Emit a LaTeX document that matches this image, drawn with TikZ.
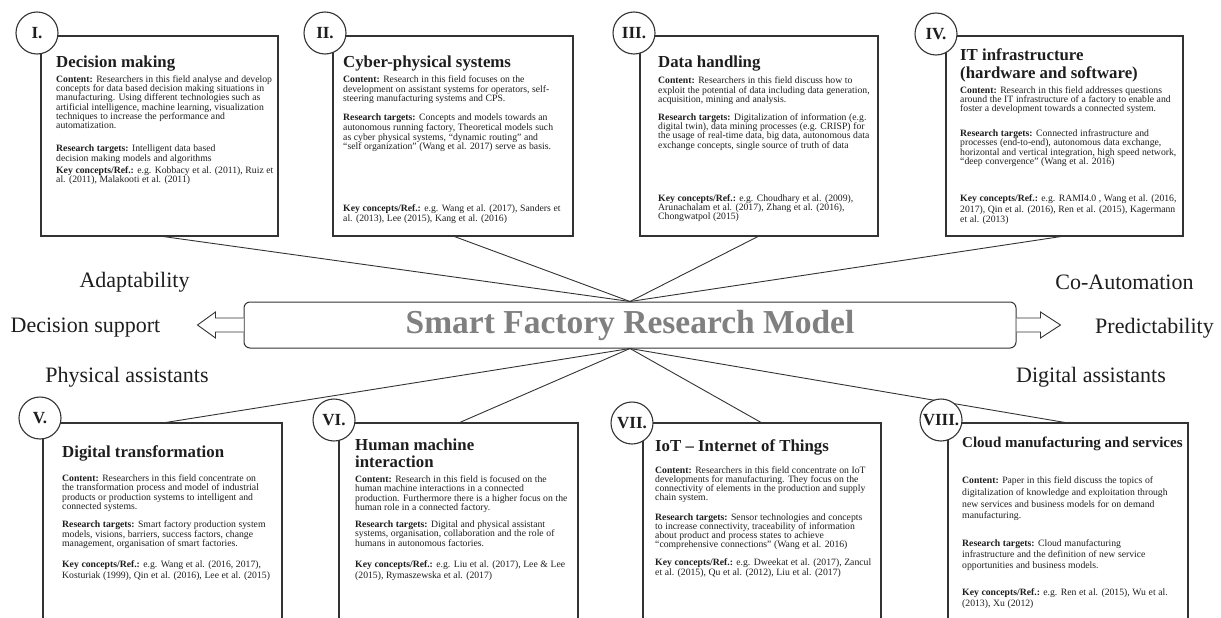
\documentclass[tikz,border=0pt]{standalone}
\usepackage{fontspec}
\setmainfont{Liberation Serif}
\definecolor{ink}{HTML}{1E1E1E}
\definecolor{frame}{HTML}{333333}
\definecolor{titlegray}{HTML}{808080}
\newcommand{\bodyfont}[1]{\fontsize{9.7}{#1}\selectfont\spaceskip=0.27em plus 0.05em\relax}
\tikzset{
 box/.style={draw=frame, line width=1.1pt, rectangle, inner sep=0pt, outer sep=0pt, anchor=north west},
 num/.style={circle, draw=frame, line width=1.1pt, fill=white, minimum size=42pt, inner sep=0pt, font=\fontsize{17}{17}\selectfont\bfseries, text=ink},
 ttl/.style={anchor=base west, inner sep=0pt, font=\fontsize{16.8}{18}\selectfont\bfseries, text=ink},
 body/.style={anchor=north west, inner sep=0pt, align=left, text=ink, font=\bodyfont{#1}},
 body/.default=9.4,
 conn/.style={draw=frame, line width=0.9pt},
 side/.style={font=\fontsize{22}{22}\selectfont, text=ink, inner sep=0pt},
 fatarrow/.style={draw=frame, line width=0.9pt, fill=white, line join=miter},
 centerbox/.style={draw=frame, line width=1pt, rounded corners=6pt, minimum width=772pt, minimum height=46pt, inner sep=0pt, font=\fontsize{33.5}{34}\selectfont\bfseries, text=titlegray}
}
\begin{document}
\begin{tikzpicture}[x=1pt,y=-1pt]
\useasboundingbox (0,0) rectangle (1221,618);
\fill[white] (0,0) rectangle (1221,618);
\clip (0,0) rectangle (1221,618);

% boxes
\node[box, minimum width=237pt, minimum height=200pt] (b1) at (41,36) {};
\node[box, minimum width=240pt, minimum height=200pt] (b2) at (333,36) {};
\node[box, minimum width=238pt, minimum height=200pt] (b3) at (640,36) {};
\node[box, minimum width=237pt, minimum height=200pt] (b4) at (946,36) {};
\node[box, minimum width=239pt, minimum height=220pt] (b5) at (43,423) {};
\node[box, minimum width=239pt, minimum height=220pt] (b6) at (339,423) {};
\node[box, minimum width=238pt, minimum height=220pt] (b7) at (643,423) {};
\node[box, minimum width=240pt, minimum height=220pt] (b8) at (948,423) {};

% center
\node[centerbox] (sf) at (630,325) {Smart Factory Research Model};

% connectors
\draw[conn] (b1.south) -- (sf.north);
\draw[conn] (b2.south) -- (sf.north);
\draw[conn] (b3.south) -- (sf.north);
\draw[conn] (b4.south) -- (sf.north);
\draw[conn] (sf.south) -- (b5.north);
\draw[conn] (sf.south) -- (b6.north);
\draw[conn] (sf.south) -- (b7.north);
\draw[conn] (sf.south) -- (b8.north);

% fat arrows
\draw[fatarrow] ([yshift=7pt]sf.west) -- ++(-28,0) -- ++(0,-6) -- ++(-18,13) -- ++(18,13) -- ++(0,-6) -- ++(28,0);
\draw[fatarrow] ([yshift=7pt]sf.east) -- ++(24,0) -- ++(0,-6) -- ++(20,13) -- ++(-20,13) -- ++(0,-6) -- ++(-24,0);

% side labels
\node[side] (adapt) at (134.5,282) {Adaptability};
\node[side] (decs) at (85.5,328) {Decision support};
\node[side] (phys) at (127,377) {Physical assistants};
\node[side] (coaut) at (1124.5,282) {Co-Automation};
\node[side] (pred) at (1154.5,328) {Predictability};
\node[side] (digi) at (1091,377) {Digital assistants};

% Box I
\node[ttl] (t1) at (56,67) {Decision making};
\node[body=9.2] (c1) at (56,75.5) {\textbf{Content:} Researchers in this field analyse and develop\\concepts for data based decision making situations in\\manufacturing. Using different technologies such as\\artificial intelligence, machine learning, visualization\\techniques to increase the performance and\\automatization.};
\node[body=9.6] (r1) at (56,144.5) {\textbf{Research targets:} Intelligent data based\\decision making models and algorithms};
\node[body=9.2] (k1) at (56,166.5) {\textbf{Key concepts/Ref.:} e.g. Kobbacy et al. (2011), Ruiz et\\al. (2011), Malakooti et al. (2011)};

% Box II
\node[ttl] (t2) at (343,67) {Cyber-physical systems};
\node[body=9.6] (c2) at (343,75.5) {\textbf{Content:} Research in this field focuses on the\\development on assistant systems for operators, self-\\steering manufacturing systems and CPS.};
\node[body=9.8] (r2) at (343,113.5) {\textbf{Research targets:} Concepts and models towards an\\autonomous running factory, Theoretical models such\\as cyber physical systems, ``dynamic routing'' and\\``self organization'' (Wang et al. 2017) serve as basis.};
\node[body=9.8] (k2) at (343,204.5) {\textbf{Key concepts/Ref.:} e.g. Wang et al. (2017), Sanders et\\al. (2013), Lee (2015), Kang et al. (2016)};

% Box III
\node[ttl] (t3) at (658,67) {Data handling};
\node[body=9.5] (c3) at (658,76.5) {\textbf{Content:} Researchers in this field discuss how to\\exploit the potential of data including data generation,\\acquisition, mining and analysis.};
\node[body=9.2] (r3) at (658,113.5) {\textbf{Research targets:} Digitalization of information (e.g.\\digital twin), data mining processes (e.g. CRISP) for\\the usage of real-time data, big data, autonomous data\\exchange concepts, single source of truth of data};
\node[body=9.2] (k3) at (658,194.5) {\textbf{Key concepts/Ref.:} e.g. Choudhary et al. (2009),\\Arunachalam et al. (2017), Zhang et al. (2016),\\Chongwatpol (2015)};

% Box IV
\node[ttl] (t4a) at (960,60) {IT infrastructure};
\node[ttl] (t4b) at (960,78) {(hardware and software)};
\node[body=9.2] (c4) at (960,86.5) {\textbf{Content:} Research in this field addresses questions\\around the IT infrastructure of a factory to enable and\\foster a development towards a connected system.};
\node[body=9.4] (r4) at (960,129.5) {\textbf{Research targets:} Connected infrastructure and\\processes (end-to-end), autonomous data exchange,\\horizontal and vertical integration, high speed network,\\``deep convergence'' (Wang et al. 2016)};
\node[body=10.5] (k4) at (960,194.5) {\textbf{Key concepts/Ref.:} e.g. RAMI4.0 , Wang et al. (2016,\\2017), Qin et al. (2016), Ren et al. (2015), Kagermann\\et al. (2013)};

% Box V
\node[ttl] (t5) at (62,457) {Digital transformation};
\node[body=9.3] (c5) at (62,474.5) {\textbf{Content:} Researchers in this field concentrate on\\the transformation process and model of industrial\\products or production systems to intelligent and\\connected systems.};
\node[body=9.5] (r5) at (62,520.5) {\textbf{Research targets:} Smart factory production system\\models, visions, barriers, success factors, change\\management, organisation of smart factories.};
\node[body=10.5] (k5) at (62,560.5) {\textbf{Key concepts/Ref.:} e.g. Wang et al. (2016, 2017),\\Kosturiak (1999), Qin et al. (2016), Lee et al. (2015)};

% Box VI
\node[ttl] (t6a) at (355,450) {Human machine};
\node[ttl] (t6b) at (355,467) {interaction};
\node[body=9.3] (c6) at (355,475.5) {\textbf{Content:} Research in this field is focused on the\\human machine interactions in a connected\\production. Furthermore there is a higher focus on the\\human role in a connected factory.};
\node[body=9.5] (r6) at (355,520.5) {\textbf{Research targets:} Digital and physical assistant\\systems, organisation, collaboration and the role of\\humans in autonomous factories.};
\node[body=10.5] (k6) at (355,560.5) {\textbf{Key concepts/Ref.:} e.g. Liu et al. (2017), Lee \& Lee\\(2015), Rymaszewska et al. (2017)};

% Box VII
\node[ttl] (t7) at (655,451) {IoT – Internet of Things};
\node[body=9.0] (c7) at (655,466.5) {\textbf{Content:} Researchers in this field concentrate on IoT\\developments for manufacturing. They focus on the\\connectivity of elements in the production and supply\\chain system.};
\node[body=9.0] (r7) at (655,513.5) {\textbf{Research targets:} Sensor technologies and concepts\\to increase connectivity, traceability of information\\about product and process states to achieve\\``comprehensive connections'' (Wang et al. 2016)};
\node[body=10] (k7) at (655,558.5) {\textbf{Key concepts/Ref.:} e.g. Dweekat et al. (2017), Zancul\\et al. (2015), Qu et al. (2012), Liu et al. (2017)};

% Box VIII
\node[ttl, font=\fontsize{15}{17}\selectfont\bfseries] (t8) at (962,447) {Cloud manufacturing and services};
\node[body=11.8] (c8) at (962,476.5) {\textbf{Content:} Paper in this field discuss the topics of\\digitalization of knowledge and exploitation through\\new services and business models for on demand\\manufacturing.};
\node[body=11] (r8) at (962,539.5) {\textbf{Research targets:} Cloud manufacturing\\infrastructure and the definition of new service\\opportunities and business models.};
\node[body=11] (k8) at (962,588.5) {\textbf{Key concepts/Ref.:} e.g. Ren et al. (2015), Wu et al.\\(2013), Xu (2012)};

% number circles
\node[num] (n1) at (37,33) {I.};
\node[num] (n2) at (325,33) {II.};
\node[num] (n3) at (634,33) {III.};
\node[num] (n4) at (936,34) {IV.};
\node[num] (n5) at (40,418) {V.};
\node[num] (n6) at (334,420) {VI.};
\node[num] (n7) at (632,423) {VII.};
\node[num] (n8) at (941,420) {VIII.};
\end{tikzpicture}
\end{document}
